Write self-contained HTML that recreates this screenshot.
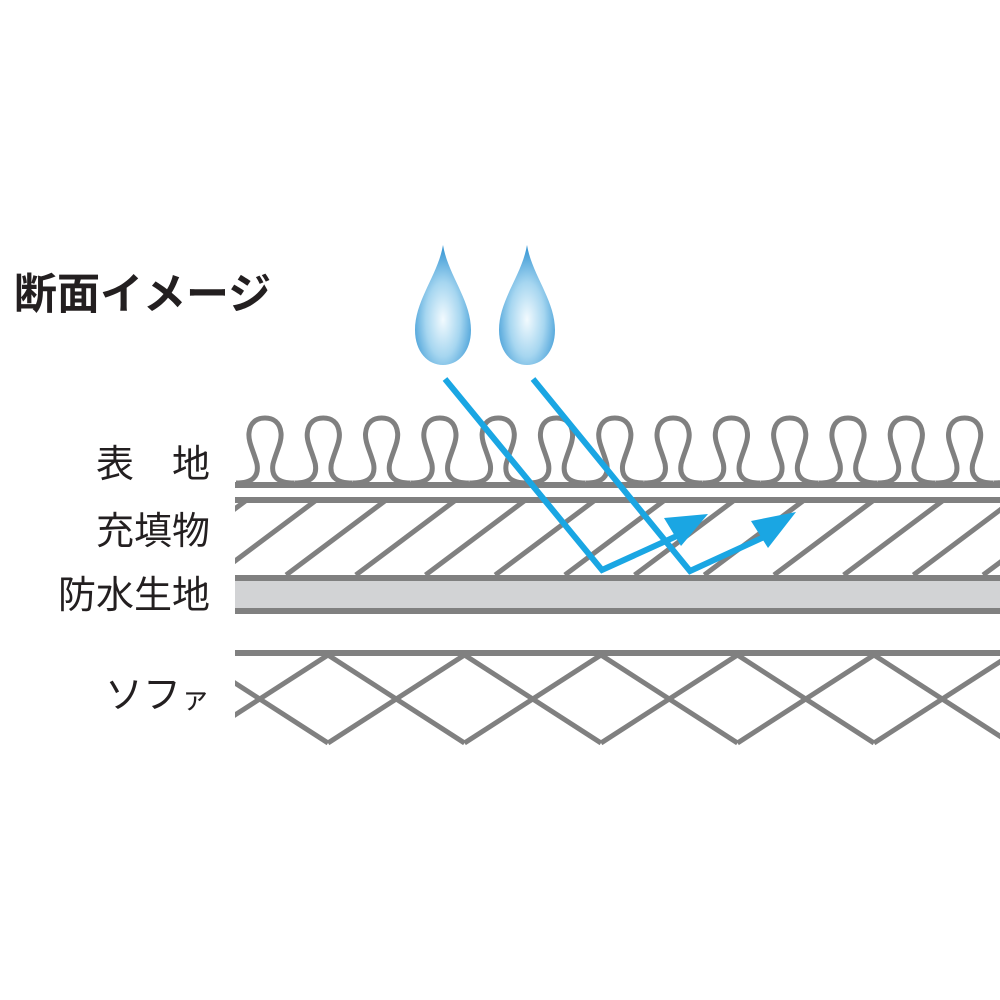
<!DOCTYPE html>
<html><head><meta charset="utf-8"><style>
html,body{margin:0;padding:0;background:#fff;}
body{width:1000px;height:1000px;position:relative;overflow:hidden;font-family:"Liberation Sans","Noto Sans CJK JP",sans-serif;color:#231f20;}
.t{position:absolute;white-space:nowrap;}
.lab{font-size:38px;right:790px;line-height:1;}
</style></head><body>
<div class="t" style="left:14px;top:274px;font-size:43px;font-weight:bold;line-height:1;">断面イメージ</div>
<div class="t lab" style="top:446px;">表　地</div>
<div class="t lab" style="top:513px;">充填物</div>
<div class="t lab" style="top:577px;">防水生地</div>
<div class="t lab" style="top:677px;">ソフ<span style="font-size:29px">ァ</span></div>
<svg width="1000" height="1000" style="position:absolute;left:0;top:0">
<defs>
<radialGradient id="dg" cx="0.5" cy="0.62" r="0.62">
<stop offset="0" stop-color="#f2fafe"/><stop offset="0.5" stop-color="#a6d6f0"/><stop offset="1" stop-color="#2f92d2"/>
</radialGradient>
<clipPath id="c"><rect x="235" y="0" width="765" height="1000"/></clipPath>
</defs>
<path d="M443 245 C448 275 471 300 471 330 C471 352 458 365 443 365 C428 365 415 352 415 330 C415 300 438 275 443 245Z" fill="url(#dg)"/>
<path d="M527 245 C532 275 555 300 555 330 C555 352 542 365 527 365 C512 365 499 352 499 330 C499 300 522 275 527 245Z" fill="url(#dg)"/>
<g stroke="#808080" fill="none" clip-path="url(#c)">
<g stroke-width="5" id="loops"></g>
<line x1="235" y1="485" x2="1000" y2="485" stroke-width="6"/>
<line x1="235" y1="500" x2="1000" y2="500" stroke-width="6"/>
<g stroke-width="5" id="hatch"></g>
<rect x="235" y="580" width="765" height="29" fill="#d2d3d5" stroke="none"/>
<line x1="235" y1="578" x2="1000" y2="578" stroke-width="6"/>
<line x1="235" y1="611" x2="1000" y2="611" stroke-width="6"/>
<line x1="235" y1="653" x2="1000" y2="653" stroke-width="6"/>
<g stroke-width="5" id="cross"></g>
</g>
<g stroke="#1aa6e3" stroke-width="6" fill="none" stroke-linejoin="miter">
<polyline points="445,379 602,570 690,530"/>
<polyline points="533,379 690,571 775,532"/>
</g>
<g fill="#1aa6e3">
<polygon points="708,514 664,518 681,546"/>
<polygon points="796,512 751,521 768,548"/>
</g>
</svg>
<script>
var ns="http://www.w3.org/2000/svg";
function add(g,tag,a){var e=document.createElementNS(ns,tag);for(var k in a)e.setAttribute(k,a[k]);document.getElementById(g).appendChild(e);}
for(var cx=265;cx<1030;cx+=58.3){
var d="M"+(cx-29)+" 483 C"+(cx-12)+" 483 "+(cx-6)+" 476 "+(cx-8)+" 464 C"+(cx-11)+" 452 "+(cx-17)+" 442 "+(cx-16)+" 433 C"+(cx-15)+" 422 "+(cx-8)+" 418 "+cx+" 418 C"+(cx+8)+" 418 "+(cx+15)+" 422 "+(cx+16)+" 433 C"+(cx+17)+" 442 "+(cx+11)+" 452 "+(cx+8)+" 464 C"+(cx+6)+" 476 "+(cx+12)+" 483 "+(cx+29)+" 483";
add("loops","path",{d:d});}
for(var x=317-70*2;x<1100;x+=69.7){add("hatch","line",{x1:x-100,y1:575,x2:x,y2:500});}
for(var x=327-136*2;x<1100;x+=136.5){
add("cross","line",{x1:x,y1:655,x2:x+136.5,y2:743});
add("cross","line",{x1:x,y1:743,x2:x+136.5,y2:655});}
</script>
</body></html>
